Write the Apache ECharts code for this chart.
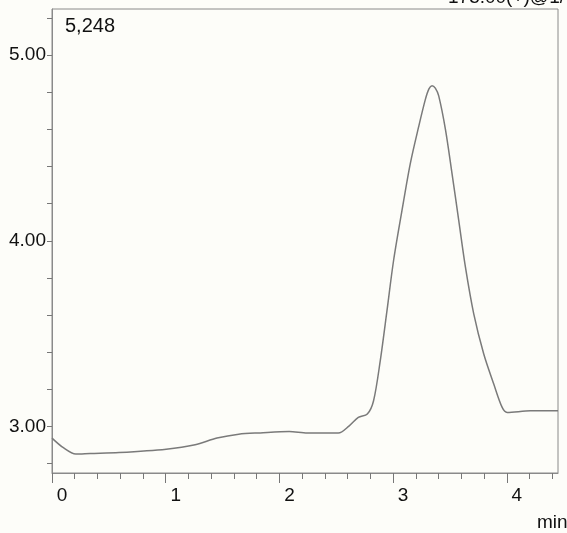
<!DOCTYPE html>
<html>
<head>
<meta charset="utf-8">
<script src="https://cdn.jsdelivr.net/npm/echarts@6/dist/echarts.min.js"></script>
<style>
html,body{margin:0;padding:0;background:#fdfdf9;}
#c{width:567px;height:533px;}
</style>
</head>
<body>
<div id="c"></div>
<script>
// retention time (min)
const times = [0, 0.1, 0.209, 0.335, 0.59, 1.004, 1.259, 1.451, 1.642, 1.831, 2.086, 2.245, 2.518, 2.614, 2.694, 2.773, 2.828, 2.887, 2.946, 3.004, 3.078, 3.151, 3.224, 3.283, 3.315, 3.342, 3.371, 3.401, 3.46, 3.518, 3.577, 3.636, 3.709, 3.797, 3.885, 3.959, 4.003, 4.208, 4.45];
// intensity
const values = [2.938, 2.886, 2.852, 2.855, 2.860, 2.878, 2.902, 2.938, 2.959, 2.966, 2.973, 2.965, 2.965, 3.004, 3.049, 3.067, 3.139, 3.355, 3.624, 3.894, 4.164, 4.416, 4.613, 4.760, 4.818, 4.835, 4.822, 4.780, 4.600, 4.362, 4.110, 3.858, 3.607, 3.391, 3.229, 3.103, 3.076, 3.085, 3.085];
const xMajorTicks = [0, 1, 2, 3, 4];
const xMinorTicks = [0.2,0.4,0.6,0.8,1.2,1.4,1.6,1.8,2.2,2.4,2.6,2.8,3.2,3.4,3.6,3.8,4.2,4.4];
const yLabels = [3, 4, 5];
const yTicks = [2.8,3.0,3.2,3.4,3.6,3.8,4.0,4.2,4.4,4.6,4.8,5.0,5.2];
const yMin = 2.75, yMax = 5.248, xMin = 0, xMax = 4.45;
const maxLabel = '5,248';
const channelLabel = '175.00(+)@1/';
const xUnit = 'min';

const font = 'Liberation Sans, Arial, sans-serif';
const chart = echarts.init(document.getElementById('c'));
chart.setOption({
  backgroundColor: '#fdfdf9',
  animation: false,
  grid: {left: 52, right: 9, top: 9, bottom: 60, show: true, borderColor: '#8a8a8a', borderWidth: 1},
  xAxis: [{
    type: 'value', min: xMin, max: xMax,
    axisLine: {lineStyle: {color: '#8a8a8a', width: 1}},
    axisTick: {show: true, length: 10, customValues: xMajorTicks, lineStyle: {color: '#777'}},
    axisLabel: {customValues: xMajorTicks, color: '#111', fontSize: 19, fontFamily: font, margin: 13, padding: [0,0,0,20]},
    splitLine: {show: false}
  }, {
    type: 'value', min: xMin, max: xMax, position: 'bottom',
    axisLine: {show: false},
    axisTick: {show: true, length: 6, customValues: xMinorTicks, lineStyle: {color: '#777'}},
    axisLabel: {show: false},
    splitLine: {show: false}
  }],
  yAxis: {
    type: 'value', min: yMin, max: yMax,
    axisLine: {show: true, lineStyle: {color: '#8a8a8a', width: 1}},
    axisTick: {show: true, length: 5, customValues: yTicks, lineStyle: {color: '#777'}},
    axisLabel: {customValues: yLabels, color: '#111', fontSize: 19, fontFamily: font, margin: 6,
      formatter: v => v.toFixed(2)},
    splitLine: {show: false}
  },
  graphic: [
    {type: 'text', left: 65, top: 16, style: {text: maxLabel, fontSize: 20, fontFamily: font, fill: '#111'}},
    {type: 'text', left: 448, top: -12, style: {text: channelLabel, fontSize: 19, fontFamily: font, fill: '#111'}},
    {type: 'text', left: 537, top: 513, style: {text: xUnit, fontSize: 19, fontFamily: font, fill: '#111'}}
  ],
  series: [{
    type: 'line', xAxisIndex: 0,
    data: times.map((t, i) => [t, values[i]]),
    showSymbol: false, smooth: 0.3,
    lineStyle: {color: '#7a7a7a', width: 1.5}
  }]
});
</script>
</body>
</html>
